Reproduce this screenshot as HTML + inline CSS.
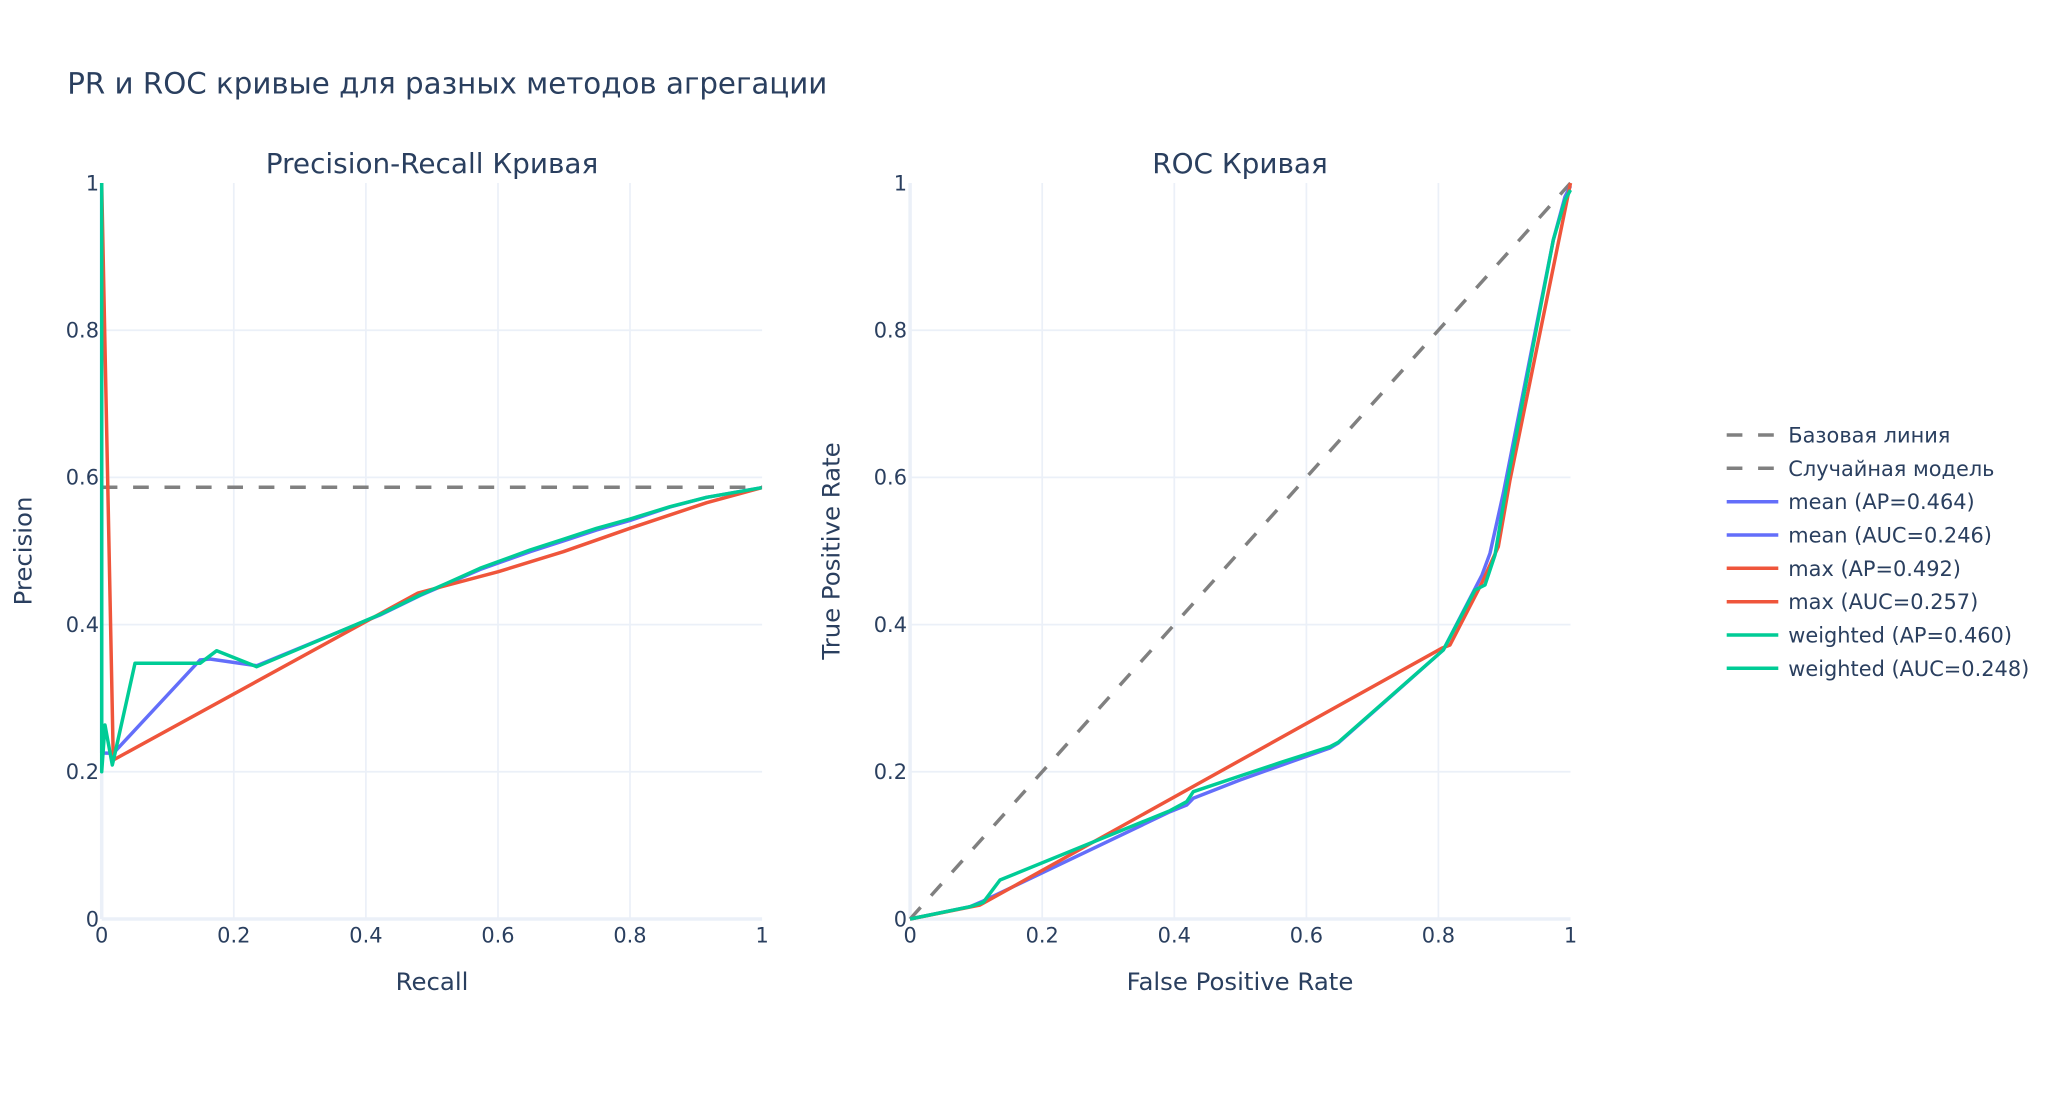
<!DOCTYPE html>
<html>
<head>
<meta charset="utf-8">
<style>
html,body{margin:0;padding:0;background:#fff;}
svg{display:block;}
text{font-family:"DejaVu Sans","Liberation Sans",sans-serif;fill:#2a3f5f;}
</style>
</head>
<body>
<svg width="2048" height="1095" viewBox="0 0 2048 1095" xmlns="http://www.w3.org/2000/svg">
<rect x="0" y="0" width="2048" height="1095" fill="#fff"/>

<!-- Main title -->
<text x="67.2" y="93.5" font-size="29.3">PR и ROC кривые для разных методов агрегации</text>

<!-- Subplot titles -->
<text x="432" y="173" font-size="27.9" text-anchor="middle">Precision-Recall Кривая</text>
<text x="1240" y="173" font-size="27.9" text-anchor="middle">ROC Кривая</text>

<!-- PR grid -->
<g stroke="#ebf0f8" stroke-width="1.74" fill="none">
  <line x1="233.8" y1="183" x2="233.8" y2="919"/>
  <line x1="365.9" y1="183" x2="365.9" y2="919"/>
  <line x1="498.0" y1="183" x2="498.0" y2="919"/>
  <line x1="630.0" y1="183" x2="630.0" y2="919"/>
  <line x1="101.7" y1="330.2" x2="762.1" y2="330.2"/>
  <line x1="101.7" y1="477.4" x2="762.1" y2="477.4"/>
  <line x1="101.7" y1="624.6" x2="762.1" y2="624.6"/>
  <line x1="101.7" y1="771.8" x2="762.1" y2="771.8"/>
</g>
<g stroke="#ebf0f8" stroke-width="3.5" fill="none">
  <line x1="101.7" y1="183" x2="101.7" y2="919"/>
  <line x1="101.7" y1="919" x2="762.1" y2="919"/>
</g>

<!-- ROC grid -->
<g stroke="#ebf0f8" stroke-width="1.74" fill="none">
  <line x1="1042.2" y1="183" x2="1042.2" y2="919"/>
  <line x1="1174.3" y1="183" x2="1174.3" y2="919"/>
  <line x1="1306.4" y1="183" x2="1306.4" y2="919"/>
  <line x1="1438.4" y1="183" x2="1438.4" y2="919"/>
  <line x1="910.1" y1="330.2" x2="1570.5" y2="330.2"/>
  <line x1="910.1" y1="477.4" x2="1570.5" y2="477.4"/>
  <line x1="910.1" y1="624.6" x2="1570.5" y2="624.6"/>
  <line x1="910.1" y1="771.8" x2="1570.5" y2="771.8"/>
</g>
<g stroke="#ebf0f8" stroke-width="3.5" fill="none">
  <line x1="910.1" y1="183" x2="910.1" y2="919"/>
  <line x1="910.1" y1="919" x2="1570.5" y2="919"/>
</g>

<!-- PR y ticks -->
<g font-size="20.9" text-anchor="end">
  <text x="99" y="190.3">1</text>
  <text x="99" y="337.5">0.8</text>
  <text x="99" y="484.7">0.6</text>
  <text x="99" y="631.9">0.4</text>
  <text x="99" y="779.1">0.2</text>
  <text x="99" y="926.3">0</text>
</g>
<!-- PR x ticks -->
<g font-size="20.9" text-anchor="middle">
  <text x="101.7" y="942.7">0</text>
  <text x="233.8" y="942.7">0.2</text>
  <text x="365.9" y="942.7">0.4</text>
  <text x="498.0" y="942.7">0.6</text>
  <text x="630.0" y="942.7">0.8</text>
  <text x="762.1" y="942.7">1</text>
</g>
<!-- ROC y ticks -->
<g font-size="20.9" text-anchor="end">
  <text x="907" y="190.3">1</text>
  <text x="907" y="337.5">0.8</text>
  <text x="907" y="484.7">0.6</text>
  <text x="907" y="631.9">0.4</text>
  <text x="907" y="779.1">0.2</text>
  <text x="907" y="926.3">0</text>
</g>
<!-- ROC x ticks -->
<g font-size="20.9" text-anchor="middle">
  <text x="910.1" y="942.7">0</text>
  <text x="1042.2" y="942.7">0.2</text>
  <text x="1174.3" y="942.7">0.4</text>
  <text x="1306.4" y="942.7">0.6</text>
  <text x="1438.4" y="942.7">0.8</text>
  <text x="1570.5" y="942.7">1</text>
</g>

<!-- Axis titles -->
<g font-size="24.4" text-anchor="middle">
  <text x="432" y="990">Recall</text>
  <text x="1240" y="990">False Positive Rate</text>
  <text transform="translate(31.5,551) rotate(-90)">Precision</text>
  <text transform="translate(839.3,551) rotate(-90)">True Positive Rate</text>
</g>

<!-- PR curves -->
<g fill="none" stroke-width="3.48" stroke-linejoin="round">
  <line x1="101.7" y1="487.3" x2="762.1" y2="487.3" stroke="#808080" stroke-dasharray="15.7,15.7"/>
  <polyline stroke="#636efa" points="101.7,183 101.7,753 113.3,753.3 200,660 210,659 256.7,665.7 380,615 420,595.5 446.7,584 480,569.5 530,551.7 563.3,541 596.7,530 630,520.5 670,507 706.7,497.3 761.7,487.7"/>
  <polyline stroke="#EF553B" points="101.7,183 113.3,760 418,593 498.3,571.7 563.3,551.7 630,528.3 706.7,502.7 761.7,487.7"/>
  <polyline stroke="#00cc96" points="101.7,183 101.7,771.8 105,725 112.3,765 115,753.3 135,663.3 200,663.3 216.7,650.7 256.7,666.7 380,614.5 420,595 446.7,583.3 480,568.3 530,550 563.3,539.3 596.7,528.3 630,519 670,506.7 706.7,497.3 761.7,487.7"/>
</g>

<!-- ROC curves -->
<g fill="none" stroke-width="3.48" stroke-linejoin="round">
  <line x1="910.1" y1="919" x2="1570.5" y2="183" stroke="#808080" stroke-dasharray="15.7,15.7"/>
  <polyline stroke="#636efa" points="910.1,919 970,906.7 983.3,901 1170,811.7 1186.7,805 1193.3,798.3 1240,780 1280,765.7 1330,748 1338.3,743 1443.3,650 1482,575 1490,553.3 1503.3,493.3 1553.3,240 1565,196.7 1570.5,186"/>
  <polyline stroke="#EF553B" points="910.1,919 980,905 1441.7,648.3 1450,645 1481.7,583.3 1498.3,546.7 1510,480 1570.5,183"/>
  <polyline stroke="#00cc96" points="910.1,919 970,906.7 983.3,902.3 1000,880 1170,810.7 1186.7,801.7 1193.3,791.7 1240,776 1280,762.7 1330,746.7 1338.3,742.3 1443.3,650 1475,590 1485,585 1495,555 1506.7,485 1553.3,240 1565,200 1570.5,190"/>
</g>

<!-- Legend -->
<g fill="none" stroke-width="3.48">
  <line x1="1726.7" y1="435" x2="1778.3" y2="435" stroke="#808080" stroke-dasharray="15.7,15.7"/>
  <line x1="1726.7" y1="468.3" x2="1778.3" y2="468.3" stroke="#808080" stroke-dasharray="15.7,15.7"/>
  <line x1="1726.7" y1="501.7" x2="1778.3" y2="501.7" stroke="#636efa"/>
  <line x1="1726.7" y1="535" x2="1778.3" y2="535" stroke="#636efa"/>
  <line x1="1726.7" y1="568.3" x2="1778.3" y2="568.3" stroke="#EF553B"/>
  <line x1="1726.7" y1="601.7" x2="1778.3" y2="601.7" stroke="#EF553B"/>
  <line x1="1726.7" y1="635" x2="1778.3" y2="635" stroke="#00cc96"/>
  <line x1="1726.7" y1="668.3" x2="1778.3" y2="668.3" stroke="#00cc96"/>
</g>
<g font-size="20.9">
  <text x="1788.3" y="442.5">Базовая линия</text>
  <text x="1788.3" y="475.8">Случайная модель</text>
  <text x="1788.3" y="509.2">mean (AP=0.464)</text>
  <text x="1788.3" y="542.5">mean (AUC=0.246)</text>
  <text x="1788.3" y="575.8">max (AP=0.492)</text>
  <text x="1788.3" y="609.2">max (AUC=0.257)</text>
  <text x="1788.3" y="642.5">weighted (AP=0.460)</text>
  <text x="1788.3" y="675.8">weighted (AUC=0.248)</text>
</g>
</svg>
</body>
</html>
